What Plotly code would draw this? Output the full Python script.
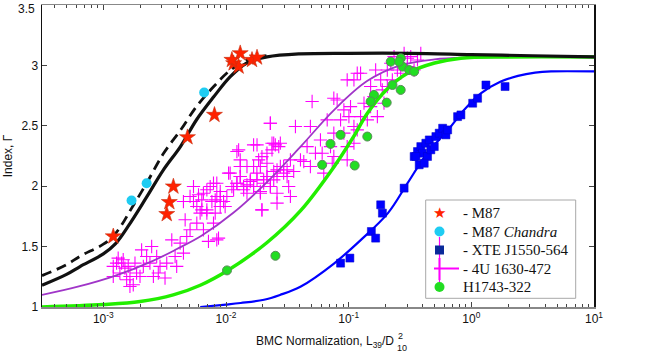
import numpy as np
import plotly.graph_objects as go

# ---------------- data (log10 of BMC normalization, photon index) ----------------
# model curves
black_logN = [-3.5, -3.3, -3.19, -3.0, -2.9, -2.8, -2.65, -2.51, -2.37, -2.24, -2.10, -1.965, -1.83, -1.665, -1.4, -1.0, -0.5, 0.0, 0.5, 1.0]
black_G    = [1.18, 1.27, 1.335, 1.44, 1.525, 1.665, 1.905, 2.135, 2.33, 2.55, 2.74, 2.907, 3.02, 3.07, 3.095, 3.10, 3.10, 3.09, 3.08, 3.07]

dashed_logN = [-3.5, -3.3, -3.19, -3.0, -2.92, -2.85, -2.78, -2.65, -2.51, -2.37, -2.24, -2.10, -1.965, -1.83, -1.67]
dashed_G    = [1.26, 1.35, 1.42, 1.52, 1.585, 1.68, 1.80, 2.02, 2.27, 2.465, 2.66, 2.825, 2.96, 3.045, 3.08]

purple_logN = [-3.5, -3.2, -2.9, -2.6, -2.4, -2.2, -1.94, -1.67, -1.39, -1.12, -0.85, -0.58, -0.30, 0.0, 0.5, 1.0]
purple_G    = [1.10, 1.17, 1.26, 1.38, 1.48, 1.59, 1.78, 2.03, 2.33, 2.63, 2.87, 3.00, 3.05, 3.065, 3.07, 3.07]

green_logN = [-3.5, -3.0, -2.7, -2.43, -2.21, -1.99, -1.67, -1.39, -1.12, -0.96, -0.85, -0.69, -0.52, -0.30, -0.085, 0.3, 1.0]
green_G    = [1.0, 1.02, 1.045, 1.10, 1.18, 1.30, 1.53, 1.80, 2.16, 2.41, 2.60, 2.80, 2.935, 3.02, 3.06, 3.07, 3.07]

blue_logN = [-2.21, -2.0, -1.88, -1.69, -1.56, -1.39, -1.12, -0.90, -0.68, -0.52, -0.36, -0.19, -0.06, 0.08, 0.24, 0.38, 0.52, 0.65, 1.0]
blue_G    = [1.0, 1.02, 1.033, 1.06, 1.10, 1.17, 1.36, 1.556, 1.777, 2.025, 2.273, 2.466, 2.63, 2.77, 2.866, 2.913, 2.94, 2.95, 2.95]

# M87 (stars)
m87_logN = [-2.919, -2.483, -2.462, -2.429, -2.314, -2.094, -1.884, -1.938, -1.897, -1.952, -1.788, -1.747]
m87_G    = [1.584, 1.769, 1.868, 1.997, 2.405, 2.590, 3.100, 3.017, 2.990, 3.045, 3.045, 3.065]

# M87 Chandra (circles)
chandra_logN = [-2.770, -2.647, -2.178]
chandra_G    = [1.882, 2.025, 2.775]

# XTE J1550-564 (squares)
xte_logN = [-1.066, -0.990, -0.815, -0.780, -0.739, -0.725, -0.548, -0.425, -0.466, -0.439, -0.412,
            -0.398, -0.371, -0.343, -0.357, -0.330, -0.302, -0.289, -0.262, -0.234, -0.207, -0.193,
            -0.112, -0.085, -0.384, -0.452, 0.011, 0.051, 0.119, 0.275]
xte_G    = [1.363, 1.405, 1.625, 1.570, 1.846, 1.777, 1.984, 2.177, 2.246, 2.287, 2.328,
            2.273, 2.356, 2.383, 2.246, 2.301, 2.328, 2.411, 2.439, 2.480, 2.425, 2.466,
            2.576, 2.590, 2.190, 2.246, 2.687, 2.728, 2.838, 2.825]

# H1743-322 (green circles)
h17_logN = [-1.992, -1.597, -1.216, -1.148, -1.066, -0.951, -0.848, -0.794, -0.821, -0.690,
            -0.643, -0.576, -0.657, -0.575, -0.561, -0.507, -0.466, -0.589]
h17_G    = [1.303, 1.424, 2.177, 2.350, 2.425, 2.171, 2.411, 2.756, 2.701, 2.692,
            2.838, 2.797, 3.031, 3.059, 2.990, 2.962, 2.949, 3.031]

# 4U 1630-472 (crosses)
u4_logN = [-2.892, -2.838, -2.797, -2.865, -2.783, -2.756, -2.688, -2.647, -2.606, -2.674, -2.620,
           -2.565, -2.538, -2.497, -2.483, -2.442, -2.415, -2.402, -2.374, -2.347, -2.320, -2.333,
           -2.293, -2.238, -2.211, -2.184, -2.156, -2.102, -2.075, -2.088,
           -2.919, -2.851, -2.919, -2.879, -2.824, -2.742, -2.729, -2.810, -2.701, -2.592, -2.552, -2.783,
           -2.265, -2.224, -2.197, -2.156, -2.115, -2.102, -2.075, -2.047, -2.020, -1.979, -1.952,
           -1.911, -1.884, -1.856, -1.829, -1.802, -1.775, -1.747, -1.720, -1.693, -1.666, -1.638,
           -1.611, -1.584, -1.584, -1.707, -1.666, -1.625, -1.747, -1.707, -1.638, -1.611, -1.570,
           -1.884, -1.897, -1.829, -1.775, -2.293, -2.265, -2.238, -2.347, -2.197, -2.047, -2.156, -1.993,
           -2.184, -2.129, -2.088, -2.075, -2.047, -2.007, -1.966, -1.938, -1.911, -1.884, -1.857,
           -1.829, -1.802, -1.775, -1.748, -1.720, -1.693, -1.666, -1.639, -1.611, -1.584, -1.557,
           -1.530, -1.502, -1.489, -1.707, -1.584, -1.475, -2.143, -2.061,
           -1.911, -1.884, -1.775, -1.734, -1.720, -1.666, -1.639, -1.625, -1.598, -1.557, -1.530,
           -1.502, -1.475, -1.448, -1.434, -1.393, -1.366, -1.339, -1.312, -1.312, -1.298, -1.271,
           -1.230, -1.203, -1.175, -1.148, -1.121, -1.121, -1.094, -1.066, -1.039, -1.012, -1.012,
           -1.039, -0.998, -0.985, -0.957, -0.957, -0.930, -0.903, -0.903, -0.875, -0.848, -0.821,
           -0.821, -0.794, -0.780, -0.766, -0.739, -0.726, -0.712, -0.685, -0.685, -0.657, -0.644,
           -0.630, -0.603, -0.576, -0.548, -0.521, -0.494, -0.467, -0.957, -0.930, -1.012, -1.121,
           -1.216, -1.134, -0.439, -0.412, -0.521, -0.576]
u4_G    = [1.363, 1.391, 1.336, 1.281, 1.253, 1.184, 1.473, 1.418, 1.501, 1.336, 1.363,
           1.418, 1.336, 1.240, 1.363, 1.556, 1.418, 1.336, 1.529, 1.446, 1.584, 1.722,
           1.639, 1.694, 1.777, 1.639, 1.804, 1.694, 1.556, 1.777,
           1.336, 1.363, 1.253, 1.405, 1.322, 1.363, 1.281, 1.225, 1.253, 1.253, 1.281, 1.170,
           1.997, 1.929, 1.887, 1.970, 1.873, 2.025, 1.915, 1.956, 1.873, 2.108, 1.997,
           2.025, 2.080, 1.970, 2.011, 2.039, 1.997, 2.052, 1.956, 2.025, 2.080, 1.997,
           2.052, 2.135, 1.942, 1.804, 2.190, 2.301, 2.342, 2.245, 2.521, 2.356, 2.328,
           2.218, 2.301, 2.163, 2.163, 1.915, 1.873, 1.832, 1.873, 1.804, 1.832, 1.777, 1.915,
           1.942, 1.997, 1.887, 2.025, 1.915, 1.832, 2.108, 1.970, 2.025, 2.080, 1.997,
           1.942, 2.053, 1.997, 2.108, 1.942, 2.053, 2.080, 1.997, 2.122, 2.080, 2.163,
           2.108, 2.080, 1.997, 1.804, 1.860, 1.915, 1.543, 1.570,
           2.287, 2.163, 2.342, 2.218, 2.163, 2.273, 2.521, 2.356, 2.342, 2.356, 2.163,
           2.135, 2.218, 2.122, 2.494, 2.218, 2.204, 2.328, 2.494, 2.163, 2.701, 2.273,
           2.383, 2.108, 2.549, 2.328, 2.246, 2.439, 2.714, 2.549, 2.632, 2.328, 2.218,
           2.439, 2.576, 2.659, 2.494, 2.356, 2.466, 2.576, 2.935, 2.687, 2.549, 2.825,
           2.659, 2.742, 2.962, 2.576, 2.880, 2.797, 2.687, 2.962, 2.825, 3.018, 2.880,
           3.073, 2.962, 3.018, 3.100, 2.990, 3.073, 2.962, 2.880, 2.935, 2.880, 2.728,
           2.273, 2.190, 3.045, 3.100, 3.059, 2.935]

# axis ticks
x_tickvals = [1e-3, 1e-2, 1e-1, 1e0, 1e1]
x_ticktext = ["10<sup>-3</sup>", "10<sup>-2</sup>", "10<sup>-1</sup>", "10<sup>0</sup>", "10<sup>1</sup>"]
y_tickvals = [1, 1.5, 2, 2.5, 3, 3.5]
y_ticktext = ["1", "1.5", "2", "2.5", "3", ""]   # top label "3.5" drawn below so it is not clipped
y_top_label = "3.5"

# legend entries
legend_labels = ["- M87", "- M87 <i>Chandra</i>", "- XTE J1550-564", "- 4U 1630-472", "H1743-322"]

W, H = 654, 355
ML, MR, MT, MB = 42, 60, 5, 48
PW, PH = W - ML - MR, H - MT - MB


def N(arr):
    return list(10 ** np.array(arr, dtype=float))


def px(xp):  # pixel -> paper (layout decoration only)
    return (xp - ML) / PW


def py(yp):
    return (H - MB - yp) / PH


fig = go.Figure()

# 4U 1630-472 crosses (data)
fig.add_trace(go.Scatter(
    x=N(u4_logN), y=u4_G, mode="markers", name="4U 1630-472",
    marker=dict(symbol="cross-thin", size=9.5, color="#FF00FF", line=dict(color="#FF00FF", width=1.1)),
))

# model curves
fig.add_trace(go.Scatter(x=N(purple_logN), y=purple_G, mode="lines", line_shape="spline",
                         line=dict(color="#A035C8", width=1.8)))
fig.add_trace(go.Scatter(x=N(green_logN), y=green_G, mode="lines", line_shape="spline",
                         line=dict(color="#22EE00", width=3.5)))
fig.add_trace(go.Scatter(x=N(blue_logN), y=blue_G, mode="lines", line_shape="spline",
                         line=dict(color="#0000FF", width=2.2)))
fig.add_trace(go.Scatter(x=N(black_logN), y=black_G, mode="lines", line_shape="spline",
                         line=dict(color="#111111", width=3.2)))
fig.add_trace(go.Scatter(x=N(dashed_logN), y=dashed_G, mode="lines", line_shape="spline",
                         line=dict(color="#111111", width=2.8, dash="10px,6px")))

# data point series
fig.add_trace(go.Scatter(
    x=N(m87_logN), y=m87_G, mode="markers", name="M87",
    marker=dict(symbol="star", size=12, color="#FF2200", line=dict(color="#C83010", width=0.6)),
))
fig.add_trace(go.Scatter(
    x=N(chandra_logN), y=chandra_G, mode="markers", name="M87 Chandra",
    marker=dict(symbol="circle", size=10, color="#1FCCF2", line=dict(width=0)),
))
fig.add_trace(go.Scatter(
    x=N(xte_logN), y=xte_G, mode="markers", name="XTE J1550-564",
    marker=dict(symbol="square", size=8, color="#0000FF", line=dict(color="#0000C8", width=0.5)),
))
fig.add_trace(go.Scatter(
    x=N(h17_logN), y=h17_G, mode="markers", name="H1743-322",
    marker=dict(symbol="circle", size=9, color="#22DD22", line=dict(color="#5A8A5A", width=1)),
))

# ---------------- legend box (drawn as shapes + text) ----------------
shapes = []
shapes.append(dict(type="rect", xref="paper", yref="paper", x0=px(425.7), x1=px(575.7),
                   y0=py(298.3), y1=py(200), fillcolor="white", line=dict(color="#A8A8A8", width=1)))
row_y = [213.5, 231.5, 250.0, 268.5, 287.0]
sym_x = 439.5
# magenta legend line (vertical + cross)
shapes.append(dict(type="line", xref="paper", yref="paper", x0=px(sym_x), x1=px(sym_x),
                   y0=py(237), y1=py(285), line=dict(color="#FF00FF", width=1.2)))
shapes.append(dict(type="line", xref="paper", yref="paper", x0=px(sym_x), x1=px(sym_x),
                   y0=py(258), y1=py(280), line=dict(color="#FF00FF", width=2)))
shapes.append(dict(type="line", xref="paper", yref="paper", x0=px(434), x1=px(459),
                   y0=py(268.5), y1=py(268.5), line=dict(color="#FF00FF", width=2)))
# cyan circle
r = 5
shapes.append(dict(type="circle", xref="paper", yref="paper", x0=px(sym_x - r), x1=px(sym_x + r),
                   y0=py(row_y[1] + r), y1=py(row_y[1] - r), fillcolor="#1FCCF2", line=dict(width=0)))
# square
s = 4.5
shapes.append(dict(type="rect", xref="paper", yref="paper", x0=px(sym_x - s), x1=px(sym_x + s),
                   y0=py(row_y[2] + s), y1=py(row_y[2] - s), fillcolor="#0A2A9A", line=dict(width=0)))
# green circle
shapes.append(dict(type="circle", xref="paper", yref="paper", x0=px(sym_x - r), x1=px(sym_x + r),
                   y0=py(row_y[4] + r), y1=py(row_y[4] - r), fillcolor="#22DD22", line=dict(width=0)))

annotations = []
annotations.append(dict(xref="paper", yref="paper", x=px(sym_x), y=py(row_y[0]), text="★",
                        showarrow=False, xanchor="center", yanchor="middle",
                        font=dict(family="DejaVu Sans", size=15, color="#FF2200")))
for lab, yy in zip(legend_labels, row_y):
    annotations.append(dict(xref="paper", yref="paper", x=px(461), y=py(yy), text=lab,
                            showarrow=False, xanchor="left", yanchor="middle",
                            font=dict(family="Liberation Serif, Times New Roman", size=15, color="#111")))

# top y tick label, nudged down so it stays inside the page
annotations.append(dict(xref="paper", yref="paper", x=px(37), y=py(0), text=y_top_label,
                        showarrow=False, xanchor="right", yanchor="top",
                        font=dict(family="Liberation Sans, Arial", size=12, color="#111")))

# x-axis title (stacked super/subscript on D)
annotations.append(dict(xref="paper", yref="paper", x=px(396), y=py(342),
                        xanchor="right", yanchor="middle", showarrow=False,
                        text="BMC Normalization, L<sub>39</sub>/D",
                        font=dict(family="Liberation Sans, Arial", size=12, color="#111")))
annotations.append(dict(xref="paper", yref="paper", x=px(396), y=py(336),
                        xanchor="left", yanchor="middle", showarrow=False, text="2",
                        font=dict(family="Liberation Sans, Arial", size=9, color="#111")))
annotations.append(dict(xref="paper", yref="paper", x=px(395), y=py(348),
                        xanchor="left", yanchor="middle", showarrow=False, text="10",
                        font=dict(family="Liberation Sans, Arial", size=9, color="#111")))

fig.update_layout(
    template="none",
    width=W, height=H, showlegend=False,
    margin=dict(l=ML, r=MR, t=MT, b=MB, autoexpand=False),
    paper_bgcolor="white", plot_bgcolor="white",
    font=dict(family="Liberation Sans, Arial", size=12, color="#111"),
    xaxis=dict(
        type="log", range=[-3.5, 1], showgrid=False, zeroline=False, automargin=False,
        tickvals=x_tickvals, ticktext=x_ticktext,
        ticks="inside", ticklen=5, tickcolor="#444", tickwidth=1,
        minor=dict(ticks="inside", ticklen=3, tickcolor="#444", dtick="D1", showgrid=False),
        showline=True, linecolor="#888888", linewidth=1.5, mirror="ticks",
        tickfont=dict(size=12), ticklabeloverflow="allow",
    ),
    yaxis=dict(
        range=[1, 3.5], showgrid=False, zeroline=False, automargin=False,
        tickvals=y_tickvals, ticktext=y_ticktext,
        ticks="inside", ticklen=5, tickcolor="#444", tickwidth=1,
        showline=True, linecolor="#111111", linewidth=1.5, mirror="ticks",
        title=dict(text="Index, Γ", font=dict(size=12), standoff=6),
        tickfont=dict(size=12), ticklabeloverflow="allow",
    ),
    shapes=shapes,
    annotations=annotations,
)

fig.write_html("out.html",
               config={"displayModeBar": False, "staticPlot": True},
               post_script="document.body.style.margin='0';document.body.style.padding='0';"
                           "document.body.style.overflow='hidden';")
